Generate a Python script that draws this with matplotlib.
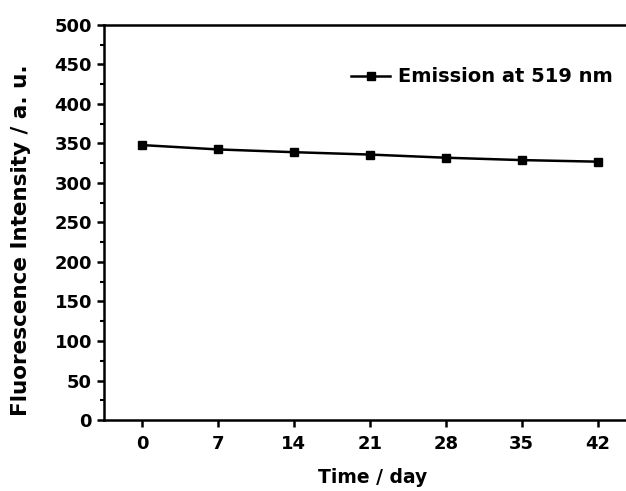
import matplotlib
matplotlib.use("Agg")
import matplotlib.pyplot as plt
from matplotlib.ticker import MultipleLocator

plt.rcParams['font.family'] = ['DejaVu Sans']
plt.rcParams['font.weight'] = 'bold'

# Emission intensity over storage time
days = [0, 7, 14, 21, 28, 35, 42]
intensity = [348, 342.5, 339, 336, 332, 329, 327]

fig = plt.figure(figsize=(6.26, 4.91), dpi=100)
ax = fig.add_axes([0.166, 0.1446, 0.858, 0.8045])

ax.plot(days, intensity, color='black', lw=1.8, marker='s', ms=5.5,
        label='Emission at 519 nm')

ax.set_xlim(-3.5, 46)
ax.set_ylim(0, 500)
ax.set_xticks(days)
ax.yaxis.set_major_locator(MultipleLocator(50))
ax.yaxis.set_minor_locator(MultipleLocator(25))

for s in ['left', 'bottom', 'top']:
    ax.spines[s].set_linewidth(1.8)
ax.spines['right'].set_visible(False)

ax.tick_params(axis='both', which='major', direction='out', length=5, width=1.8,
               labelsize=13)
ax.tick_params(axis='x', which='major', pad=6)
ax.tick_params(axis='y', which='minor', direction='out', length=3, width=1.5)
ax.tick_params(axis='x', which='minor', bottom=False)

ax.set_xlabel('Time / day', fontsize=13.5, fontweight='bold', labelpad=10.5)
ax.set_ylabel('Fluorescence Intensity / a. u.', fontsize=15.5, fontweight='bold')
ax.yaxis.set_label_coords(-0.135, 0.455)

ax.legend(loc='upper right', bbox_to_anchor=(0.98, 0.937), frameon=False,
          handlelength=2.0, handletextpad=0.4,
          prop={'weight': 'bold', 'size': 14})

fig.savefig('out.png', dpi=100)
